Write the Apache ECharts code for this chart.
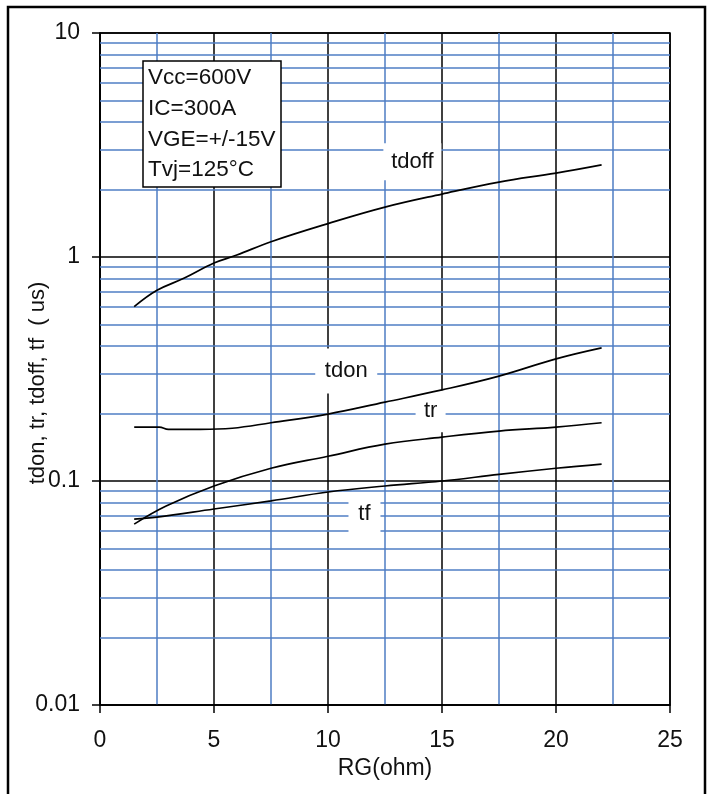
<!DOCTYPE html>
<html><head><meta charset="utf-8">
<script src="https://cdn.jsdelivr.net/npm/echarts@6/dist/echarts.min.js"></script>
<style>html,body{margin:0;padding:0;background:#fff}#c{width:712px;height:794px}</style>
</head><body><div id="c"></div>
<script>
// ---- data ----
const tdoffRG  = [1.5, 2.5, 3.7, 5, 6, 7.5, 10, 12.5, 15, 17.5, 20, 22];
const tdoffVal = [0.60, 0.71, 0.805, 0.94, 1.02, 1.17, 1.41, 1.67, 1.91, 2.16, 2.37, 2.58];
const tdonRG   = [1.5, 2.6, 3.0, 4.4, 5.8, 7.5, 10, 12.5, 15, 17.5, 20, 22];
const tdonVal  = [0.174, 0.174, 0.170, 0.170, 0.172, 0.182, 0.199, 0.225, 0.255, 0.294, 0.351, 0.393];
const trRG     = [1.5, 2.9, 5, 7.5, 10, 12.5, 15, 17.5, 20, 22];
const trVal    = [0.0642, 0.0773, 0.095, 0.114, 0.129, 0.146, 0.157, 0.167, 0.174, 0.182];
const tfRG     = [1.5, 2.5, 5, 7.5, 10, 12.5, 15, 17.5, 20, 22];
const tfVal    = [0.0676, 0.069, 0.075, 0.0815, 0.0893, 0.095, 0.100, 0.107, 0.114, 0.119];
const minorY   = [0.02,0.03,0.04,0.05,0.06,0.07,0.08,0.09,0.2,0.3,0.4,0.5,0.6,0.7,0.8,0.9,2,3,4,5,6,7,8,9];
const curveLabels = [
  {name:'tdoff', rg:13.7, v:2.66, w:58, h:37},
  {name:'tdon',  rg:10.8, v:0.31, w:62, h:45},
  {name:'tr',    rg:14.5, v:0.205, w:30, h:42},
  {name:'tf',    rg:11.6, v:0.0712, w:32, h:37}
];
const infoLines = ['Vcc=600V','IC=300A','VGE=+/-15V','Tvj=125°C'];
const yTitle = 'tdon, tr, tdoff, tf  ( us)';
const xTitle = 'RG(ohm)';

const BLUE = '#4f7ec4';
const FONT = '"Liberation Sans", Arial, sans-serif';
const zip = (a,b)=>a.map((x,i)=>[x,b[i]]);

function curve(name, rg, val){
  return {name, type:'line', data: zip(rg,val), showSymbol:false, symbol:'none', smooth:0.4,
    lineStyle:{color:'#000', width:1.7}, z:5, silent:true, animation:false};
}

const chart = echarts.init(document.getElementById('c'), null, {renderer:'canvas'});
chart.setOption({
  animation:false,
  backgroundColor:'#fff',
  grid:{left:100, right:42, top:33, bottom:89, show:true, borderColor:'#000', borderWidth:1.5,
    backgroundColor:'transparent', containLabel:false, outerBoundsMode:'none'},
  xAxis:{type:'value', min:0, max:25, interval:5, z:3,
    name:xTitle, nameLocation:'middle', nameGap:52,
    nameTextStyle:{fontFamily:FONT, fontSize:23, color:'#111'},
    axisLine:{show:true, lineStyle:{color:'#000', width:1.5}},
    axisTick:{show:true, inside:false, length:8, lineStyle:{color:'#000', width:1.5}},
    axisLabel:{fontFamily:FONT, fontSize:23, color:'#111', margin:24},
    splitLine:{show:true, lineStyle:{color:'#000', width:1.5}},
    minorTick:{show:false, splitNumber:2},
    minorSplitLine:{show:true, lineStyle:{color:BLUE, width:1.5}}
  },
  yAxis:{type:'log', logBase:10, min:0.01, max:10, z:3,
    axisLine:{show:true, lineStyle:{color:'#000', width:1.5}},
    axisTick:{show:true, inside:false, length:8, lineStyle:{color:'#000', width:1.5}},
    axisLabel:{fontFamily:FONT, fontSize:23, color:'#111', margin:20},
    splitLine:{show:true, lineStyle:{color:'#000', width:1.5}},
    minorTick:{show:false}, minorSplitLine:{show:false}
  },
  series:[
    {type:'line', data:[], z:1, silent:true, animation:false,
      markLine:{silent:true, symbol:['none','none'], animation:false, label:{show:false},
        lineStyle:{color:BLUE, width:1.5, type:'solid'},
        emphasis:{disabled:true},
        data: minorY.map(v=>({yAxis:v}))}},
    curve('tdoff', tdoffRG, tdoffVal),
    curve('tdon', tdonRG, tdonVal),
    curve('tr', trRG, trVal),
    curve('tf', tfRG, tfVal),
    {type:'line', data:[], z:6, silent:true, animation:false,
      markPoint:{silent:true, animation:false,
        data: curveLabels.map(l=>({coord:[l.rg,l.v], symbol:'rect', symbolSize:[l.w,l.h],
          itemStyle:{color:'#fff'},
          label:{show:true, formatter:l.name, color:'#111', fontFamily:FONT, fontSize:22}}))}}
  ],
  graphic:[
    {type:'rect', shape:{x:8, y:7, width:697, height:820}, style:{fill:'none', stroke:'#000', lineWidth:2.5}, z:20, silent:true},
    {type:'text', z:20, silent:true, x:38, y:383, rotation:Math.PI/2,
      style:{text:yTitle, fontFamily:FONT, fontSize:22, fill:'#111', align:'center', verticalAlign:'middle'}},
    {type:'rect', z:20, silent:true, shape:{x:143, y:61, width:138, height:126}, style:{fill:'#fff', stroke:'#000', lineWidth:1.5}},
    ...infoLines.map((t,i)=>({type:'text', z:21, silent:true, x:148, y:78+i*30.7,
      style:{text:t, fontFamily:FONT, fontSize:22.5, fill:'#111', verticalAlign:'middle'}}))
  ]
});
</script></body></html>
